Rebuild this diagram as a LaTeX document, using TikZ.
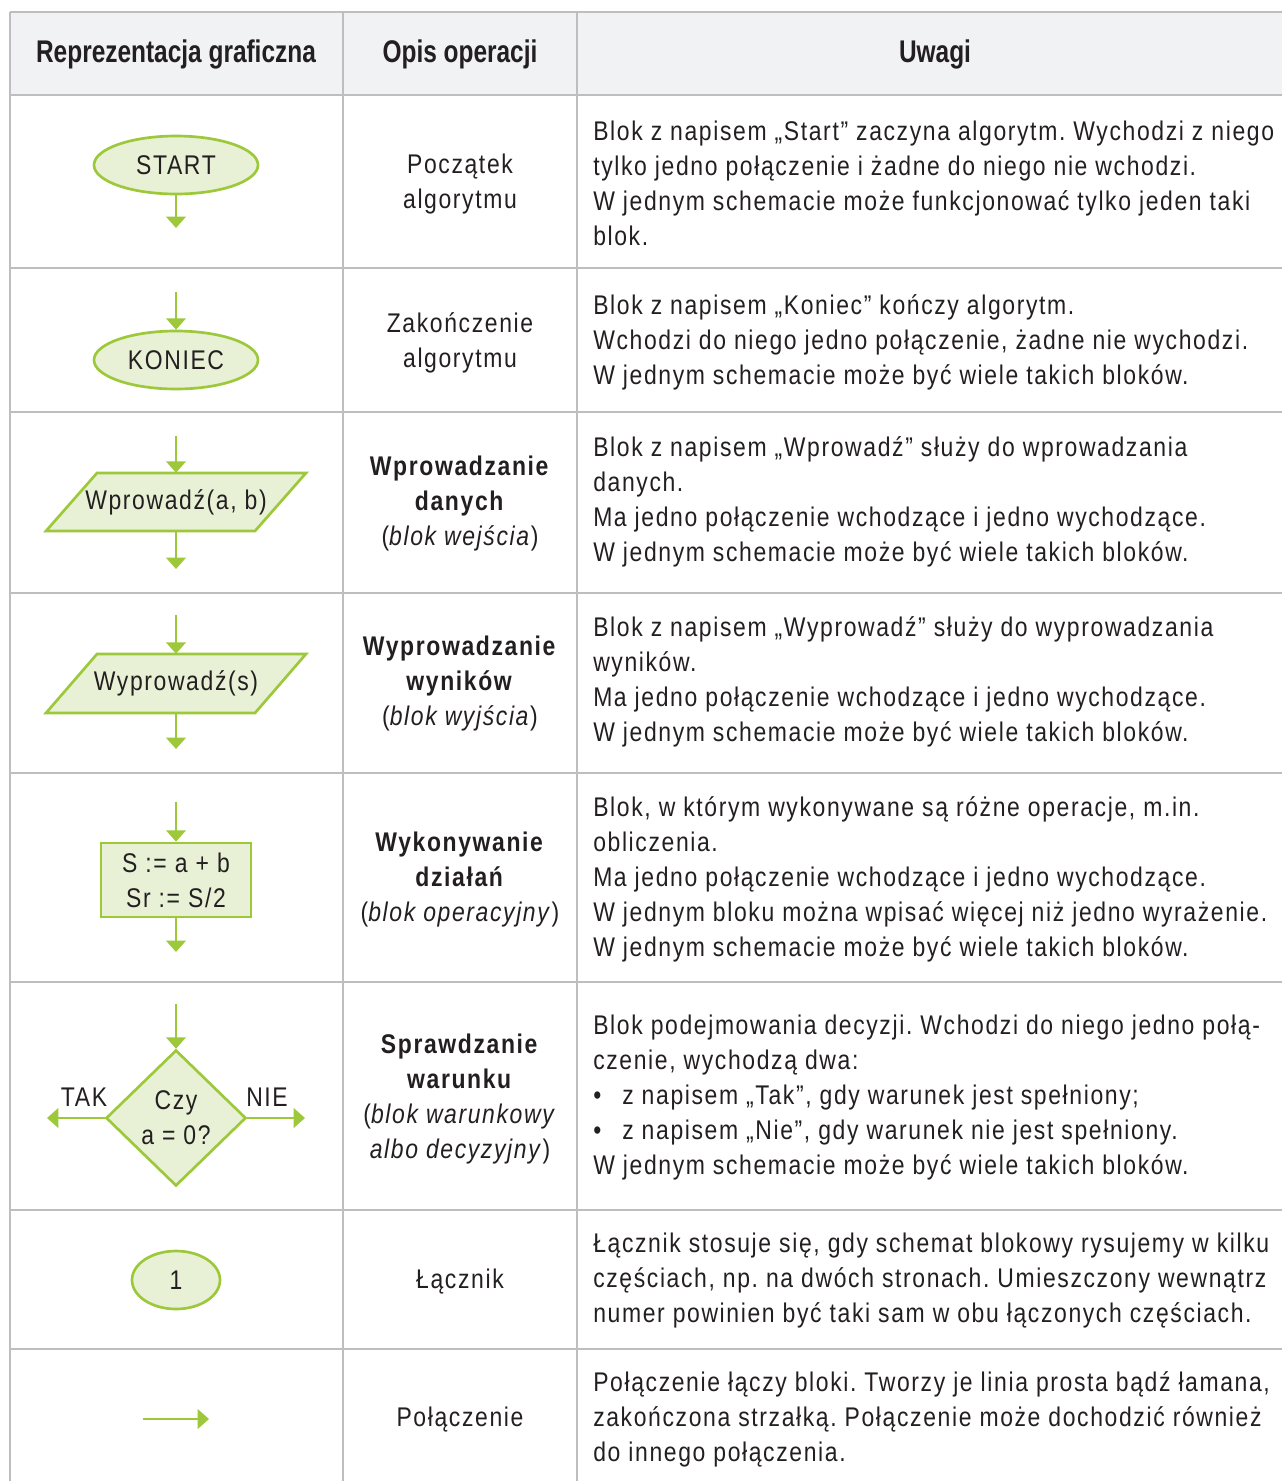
\documentclass[tikz,border=0pt]{standalone}
\usepackage{fontspec}
\setmainfont{Liberation Sans}[FakeStretch=0.85,LetterSpace=6]
\newfontfamily\hdfont{Liberation Sans}[FakeStretch=0.78]
\usetikzlibrary{arrows.meta,shapes.geometric}
\definecolor{lgreen}{HTML}{9CC83A}
\definecolor{lfill}{HTML}{E8F1D6}
\definecolor{gridc}{HTML}{BEBEC0}
\definecolor{headc}{HTML}{F1F2F4}
\definecolor{txt}{HTML}{231F20}
\tikzset{
  body/.style={font=\fontsize{20.25}{26.25}\selectfont\frenchspacing, text=txt, inner sep=0pt},
  hd/.style={font=\hdfont\bfseries\fontsize{23.5}{26}\selectfont, text=txt, inner sep=0pt},
  mid/.style={body, align=center},
  rt/.style={body, align=left, anchor=west},
  gline/.style={draw=gridc, line width=1.5pt},
  shp/.style={draw=lgreen, fill=lfill, line width=2pt},
  arr/.style={draw=lgreen, line width=2.1pt, -{Triangle[width=14.5pt,length=8.5pt]}},
}
\begin{document}
\begin{tikzpicture}[x=0.75pt,y=-0.75pt]
\useasboundingbox (0,0) rectangle (1282,1481);
% header
\fill[headc] (10,12) rectangle (1282,95);
% grid
\draw[gline] (10,12) -- (1282,12);
\foreach \yy in {95,268,412,593,773,982,1210,1349}{\draw[gline] (10,\yy) -- (1282,\yy);}
\draw[gline] (10,12) -- (10,1481);
\draw[gline] (343,12) -- (343,1481);
\draw[gline] (577,12) -- (577,1481);
% header texts
\node[hd] (h1) at (176,54) {Reprezentacja graficzna};
\node[hd] (h2) at (460,54) {Opis operacji};
\node[hd] (h3) at (935,54) {Uwagi};

% row 1
\node[shp, ellipse, body, minimum width=123pt, minimum height=43.5pt] (start) at (176,165) {START};
\coordinate (s1) at (176,228);
\draw[arr] (start) -- (s1);
\node[mid] (m1) at (460,184) {Początek\\algorytmu};
\node[rt] (r1) at (593,183) {Blok z napisem „Start” zaczyna algorytm. Wychodzi z niego\\tylko jedno połączenie i żadne do niego nie wchodzi.\\W jednym schemacie może funkcjonować tylko jeden taki\\blok.};

% row 2
\node[shp, ellipse, body, minimum width=123pt, minimum height=43.5pt] (koniec) at (176,360) {KONIEC};
\coordinate (k0) at (176,292);
\draw[arr] (k0) -- (koniec);
\node[mid] (m2) at (460,343) {Zakończenie\\algorytmu};
\node[rt] (r2) at (593,342) {Blok z napisem „Koniec” kończy algorytm.\\Wchodzi do niego jedno połączenie, żadne nie wychodzi.\\W jednym schemacie może być wiele takich bloków.};

% row 3
\draw[shp] (97,473) -- (306,473) -- (255,531) -- (46,531) -- cycle;
\node[body, minimum height=43.5pt] (in1) at (176,502) {Wprowadź(a, b)};
\coordinate (i0) at (176,436);
\coordinate (i2) at (176,569);
\draw[arr] (i0) -- (in1.north);
\draw[arr] (in1.south) -- (i2);
\node[mid] (m3) at (460,504) {\textbf{Wprowadzanie}\\\textbf{danych}\\(\textit{blok wejścia})};
\node[rt] (r3) at (593,502) {Blok z napisem „Wprowadź” służy do wprowadzania\\danych.\\Ma jedno połączenie wchodzące i jedno wychodzące.\\W jednym schemacie może być wiele takich bloków.};

% row 4
\draw[shp] (97,654) -- (306,654) -- (255,713) -- (46,713) -- cycle;
\node[body, minimum height=44.25pt] (out1) at (176,683.5) {Wyprowadź(s)};
\coordinate (o0) at (176,615);
\coordinate (o2) at (176,749);
\draw[arr] (o0) -- (out1.north);
\draw[arr] (out1.south) -- (o2);
\node[mid] (m4) at (460,684) {\textbf{Wyprowadzanie}\\\textbf{wyników}\\(\textit{blok wyjścia})};
\node[rt] (r4) at (593,682) {Blok z napisem „Wyprowadź” służy do wyprowadzania\\wyników.\\Ma jedno połączenie wchodzące i jedno wychodzące.\\W jednym schemacie może być wiele takich bloków.};

% row 5
\node[shp, body, align=center, minimum width=112.5pt, minimum height=55.5pt, inner sep=0pt] (op) at (176,880) {S := a + b\\Sr := S/2};
\coordinate (p0) at (176,802);
\coordinate (p2) at (176,952);
\draw[arr] (p0) -- (op);
\draw[arr] (op) -- (p2);
\node[mid] (m5) at (460,880) {\textbf{Wykonywanie}\\\textbf{działań}\\(\textit{blok operacyjny})};
\node[rt] (r5) at (593,879) {Blok, w którym wykonywane są różne operacje, m.in.\\obliczenia.\\Ma jedno połączenie wchodzące i jedno wychodzące.\\W jednym bloku można wpisać więcej niż jedno wyrażenie.\\W jednym schemacie może być wiele takich bloków.};

% row 6
\node[shp, diamond, body, align=center, inner sep=0pt, minimum width=105pt, minimum height=102pt] (dec) at (176,1118) {Czy\\a = 0?};
\coordinate (d0) at (176,1004);
\coordinate (dl) at (47,1118);
\coordinate (dr) at (305,1118);
\draw[arr] (d0) -- (dec.north);
\draw[arr] (dec.west) -- (dl);
\draw[arr] (dec.east) -- (dr);
\node[body] (tak) at (84,1097) {TAK};
\node[body] (nie) at (267,1097) {NIE};
\node[mid] (m6) at (460,1099) {\textbf{Sprawdzanie}\\\textbf{warunku}\\(\textit{blok warunkowy}\\\textit{albo decyzyjny})};
\node[rt] (r6) at (593,1098) {Blok podejmowania decyzji. Wchodzi do niego jedno połą-\\czenie, wychodzą dwa:\\\makebox[21.75pt][l]{•}z napisem „Tak”, gdy warunek jest spełniony;\\\makebox[21.75pt][l]{•}z napisem „Nie”, gdy warunek nie jest spełniony.\\W jednym schemacie może być wiele takich bloków.};

% row 7
\node[shp, ellipse, body, minimum width=66pt, minimum height=43.5pt] (lacz) at (176,1280) {1};
\node[mid] (m7) at (460,1282) {Łącznik};
\node[rt] (r7) at (593,1281) {Łącznik stosuje się, gdy schemat blokowy rysujemy w kilku\\częściach, np. na dwóch stronach. Umieszczony wewnątrz\\numer powinien być taki sam w obu łączonych częściach.};

% row 8
\coordinate (a0) at (143,1419);
\coordinate (a1) at (209,1419);
\draw[arr] (a0) -- (a1);
\node[mid] (m8) at (460,1420) {Połączenie};
\node[rt] (r8) at (593,1419) {Połączenie łączy bloki. Tworzy je linia prosta bądź łamana,\\zakończona strzałką. Połączenie może dochodzić również\\do innego połączenia.};
\end{tikzpicture}
\end{document}
